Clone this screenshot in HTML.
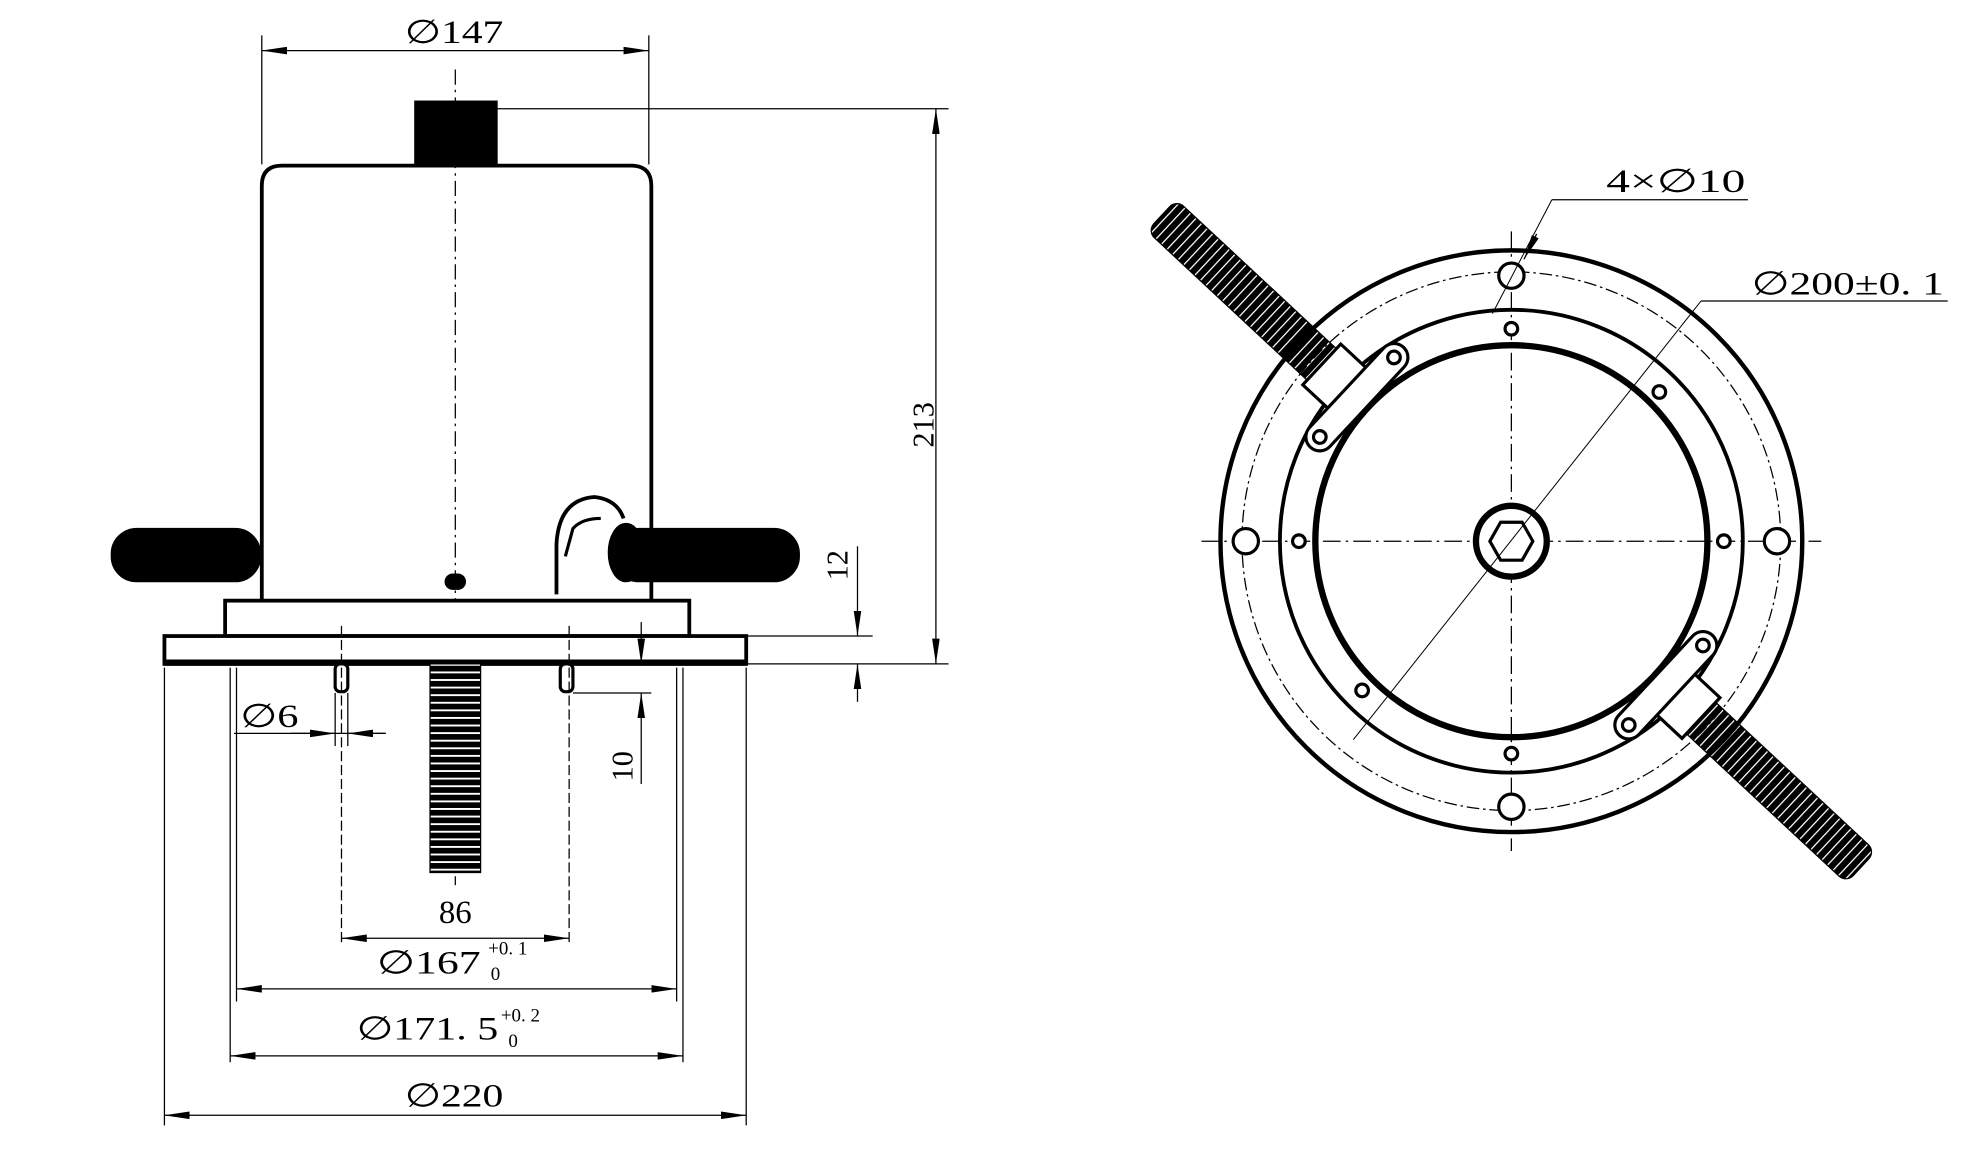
<!DOCTYPE html>
<html><head><meta charset="utf-8"><style>
html,body{margin:0;padding:0;background:#fff;}
svg{display:block;}
text{font-family:"Liberation Serif",serif;fill:#000;stroke:none;font-weight:normal;}
</style></head><body>
<svg width="1973" height="1176" viewBox="0 0 1560 930" preserveAspectRatio="none" xmlns="http://www.w3.org/2000/svg">
<defs>
<marker id="a" viewBox="0 0 20 6" refX="20" refY="3" markerWidth="20" markerHeight="6" orient="auto-start-reverse" markerUnits="userSpaceOnUse"><path d="M0,0 L20,3 L0,6z" fill="#000"/></marker>
<pattern id="thr" width="6" height="6" patternUnits="userSpaceOnUse"><rect width="6" height="6" fill="#000"/><rect y="3" width="6" height="1.5" fill="#fff"/></pattern>
<pattern id="knurl" width="6" height="40" patternUnits="userSpaceOnUse"><rect width="6" height="40" fill="#000"/><rect x="3" width="1" height="40" fill="#fff"/></pattern>
</defs>
<g stroke="#000" fill="none">
<!-- LEFT VIEW -->
<line x1="207" y1="28" x2="207" y2="130" stroke-width="1"/>
<line x1="513" y1="28" x2="513" y2="130" stroke-width="1"/>
<line x1="207" y1="40" x2="513" y2="40" stroke-width="1" marker-start="url(#a)" marker-end="url(#a)"/>
<rect x="328" y="80" width="65" height="50" fill="#000"/>
<path d="M207,475 V147 Q207,131 223,131 H499 Q515,131 515,147 V475" stroke-width="3"/>
<line x1="360" y1="55" x2="360" y2="700" stroke-width="1" stroke-dasharray="12,4,2,4"/>
<line x1="393" y1="86" x2="750" y2="86" stroke-width="1"/>
<line x1="590" y1="525" x2="750" y2="525" stroke-width="1"/>
<line x1="740" y1="86" x2="740" y2="525" stroke-width="1" marker-start="url(#a)" marker-end="url(#a)"/>
<text x="738" y="336" font-size="24" transform="rotate(-90 738 336)" text-anchor="middle">213</text>
<rect x="88" y="418" width="118" height="42" rx="20" fill="#000"/>
<rect x="485" y="418" width="147" height="42" rx="20" fill="#000"/>
<path d="M440,470 V430 Q442,395 470,393 Q488,395 493,410" stroke-width="3" fill="#fff"/>
<path d="M447,440 L453,418 Q460,410 475,410" stroke-width="2.5"/>
<ellipse cx="495" cy="437" rx="13" ry="22" stroke-width="3" fill="#000"/>
<rect x="352" y="454" width="16" height="12" rx="6" fill="#000"/>
<rect x="178" y="475" width="367" height="28" stroke-width="3" fill="#fff"/>
<rect x="130" y="503" width="460" height="22" stroke-width="3" fill="#fff"/>
<line x1="130" y1="524" x2="590" y2="524" stroke-width="5"/>
<line x1="590" y1="503" x2="690" y2="503" stroke-width="1"/>
<rect x="265" y="525" width="10" height="22" rx="4" stroke-width="2.5" fill="#fff"/>
<rect x="443" y="525" width="10" height="22" rx="4" stroke-width="2.5" fill="#fff"/>
<rect x="340" y="525" width="40" height="165" fill="url(#thr)"/>
<line x1="270" y1="495" x2="270" y2="745" stroke-width="1" stroke-dasharray="8,3"/>
<line x1="450" y1="495" x2="450" y2="745" stroke-width="1" stroke-dasharray="8,3"/>
<line x1="185" y1="580" x2="305" y2="580" stroke-width="1"/>
<line x1="230" y1="580" x2="265" y2="580" marker-end="url(#a)" stroke-width="1"/>
<line x1="305" y1="580" x2="275" y2="580" marker-end="url(#a)" stroke-width="1"/>
<line x1="265" y1="548" x2="265" y2="590" stroke-width="1"/>
<line x1="275" y1="548" x2="275" y2="590" stroke-width="1"/>
<text x="190" y="575" font-size="26" textLength="46" lengthAdjust="spacingAndGlyphs">∅6</text>
<line x1="453" y1="548" x2="515" y2="548" stroke-width="1"/>
<line x1="507" y1="492" x2="507" y2="525" stroke-width="1" marker-end="url(#a)"/>
<line x1="507" y1="620" x2="507" y2="548" stroke-width="1" marker-end="url(#a)"/>
<text x="500" y="606" font-size="24" transform="rotate(-90 500 606)" text-anchor="middle">10</text>
<line x1="678" y1="432" x2="678" y2="503" stroke-width="1" marker-end="url(#a)"/>
<line x1="678" y1="555" x2="678" y2="525" stroke-width="1" marker-end="url(#a)"/>
<text x="670" y="447" font-size="24" transform="rotate(-90 670 447)" text-anchor="middle">12</text>
<line x1="270" y1="742" x2="450" y2="742" stroke-width="1" marker-start="url(#a)" marker-end="url(#a)"/>
<text x="360" y="730" font-size="26" text-anchor="middle">86</text>
<line x1="187" y1="528" x2="187" y2="792" stroke-width="1"/>
<line x1="535" y1="528" x2="535" y2="792" stroke-width="1"/>
<line x1="187" y1="782" x2="535" y2="782" stroke-width="1" marker-start="url(#a)" marker-end="url(#a)"/>
<text x="298" y="770" font-size="26" textLength="82" lengthAdjust="spacingAndGlyphs">∅167</text>
<text x="386" y="755" font-size="15">+0. 1</text>
<text x="388" y="775" font-size="15">0</text>
<line x1="182" y1="528" x2="182" y2="840" stroke-width="1"/>
<line x1="540" y1="528" x2="540" y2="840" stroke-width="1"/>
<line x1="182" y1="835" x2="540" y2="835" stroke-width="1" marker-start="url(#a)" marker-end="url(#a)"/>
<text x="282" y="822" font-size="26" textLength="112" lengthAdjust="spacingAndGlyphs">∅171. 5</text>
<text x="396" y="808" font-size="15">+0. 2</text>
<text x="402" y="828" font-size="15">0</text>
<line x1="130" y1="528" x2="130" y2="890" stroke-width="1"/>
<line x1="590" y1="528" x2="590" y2="890" stroke-width="1"/>
<line x1="130" y1="882" x2="590" y2="882" stroke-width="1" marker-start="url(#a)" marker-end="url(#a)"/>
<text x="320" y="875" font-size="26" textLength="78" lengthAdjust="spacingAndGlyphs">∅220</text>
<text x="320" y="34" font-size="26" textLength="78" lengthAdjust="spacingAndGlyphs">∅147</text>

<!-- RIGHT VIEW -->
<g transform="translate(1195 428)">
<g transform="rotate(43)">
<rect x="-378" y="-17" width="190" height="34" rx="8" fill="url(#knurl)"/>
<rect x="188" y="-17" width="190" height="34" rx="8" fill="url(#knurl)"/>
</g>
<circle r="230" stroke-width="3.5" fill="none"/>
<circle r="213" stroke-width="1" stroke-dasharray="10,3,2,3"/>
<circle r="183" stroke-width="3"/>
<circle r="155" stroke-width="5"/>
<line x1="-245" y1="0" x2="245" y2="0" stroke-width="1" stroke-dasharray="14,4,2,4"/>
<line x1="0" y1="-245" x2="0" y2="245" stroke-width="1" stroke-dasharray="14,4,2,4"/>
<circle r="28" stroke-width="5" fill="#fff"/>
<polygon points="-17,0 -8.5,-15 8.5,-15 17,0 8.5,15 -8.5,15" stroke-width="2.5"/>
<g stroke-width="2.5" fill="#fff">
<circle cx="0" cy="-210" r="10"/><circle cx="0" cy="210" r="10"/>
<circle cx="-210" cy="0" r="10"/><circle cx="210" cy="0" r="10"/>
<circle cx="0" cy="-168" r="5"/><circle cx="0" cy="168" r="5"/>
<circle cx="-168" cy="0" r="5"/><circle cx="168" cy="0" r="5"/>
<circle cx="117" cy="-118" r="5"/><circle cx="-118" cy="118" r="5"/>
</g>
<g transform="rotate(43)" stroke-width="2.5" fill="#fff">
<rect x="-205" y="-22" width="32" height="44"/>
<rect x="173" y="-22" width="32" height="44"/>
<rect x="-178" y="-54" width="22" height="108" rx="11"/>
<rect x="156" y="-54" width="22" height="108" rx="11"/>
<circle cx="-167" cy="-43" r="5"/><circle cx="-167" cy="43" r="5"/>
<circle cx="167" cy="-43" r="5"/><circle cx="167" cy="43" r="5"/>
</g>
</g>
<line x1="1070" y1="585" x2="1345" y2="238" stroke-width="0.8"/>
<line x1="1345" y1="238" x2="1540" y2="238" stroke-width="1"/>
<text x="1385" y="233" font-size="26" textLength="152" lengthAdjust="spacingAndGlyphs">∅200±0. 1</text>
<line x1="1180" y1="248" x2="1227" y2="158" stroke-width="0.8"/>
<line x1="1227" y1="158" x2="1382" y2="158" stroke-width="1"/>
<line x1="1215" y1="185" x2="1205" y2="205" stroke-width="1" marker-end="url(#a)"/>
<text x="1270" y="152" font-size="26" textLength="110" lengthAdjust="spacingAndGlyphs">4×∅10</text>
</g>
</svg>
</body></html>
